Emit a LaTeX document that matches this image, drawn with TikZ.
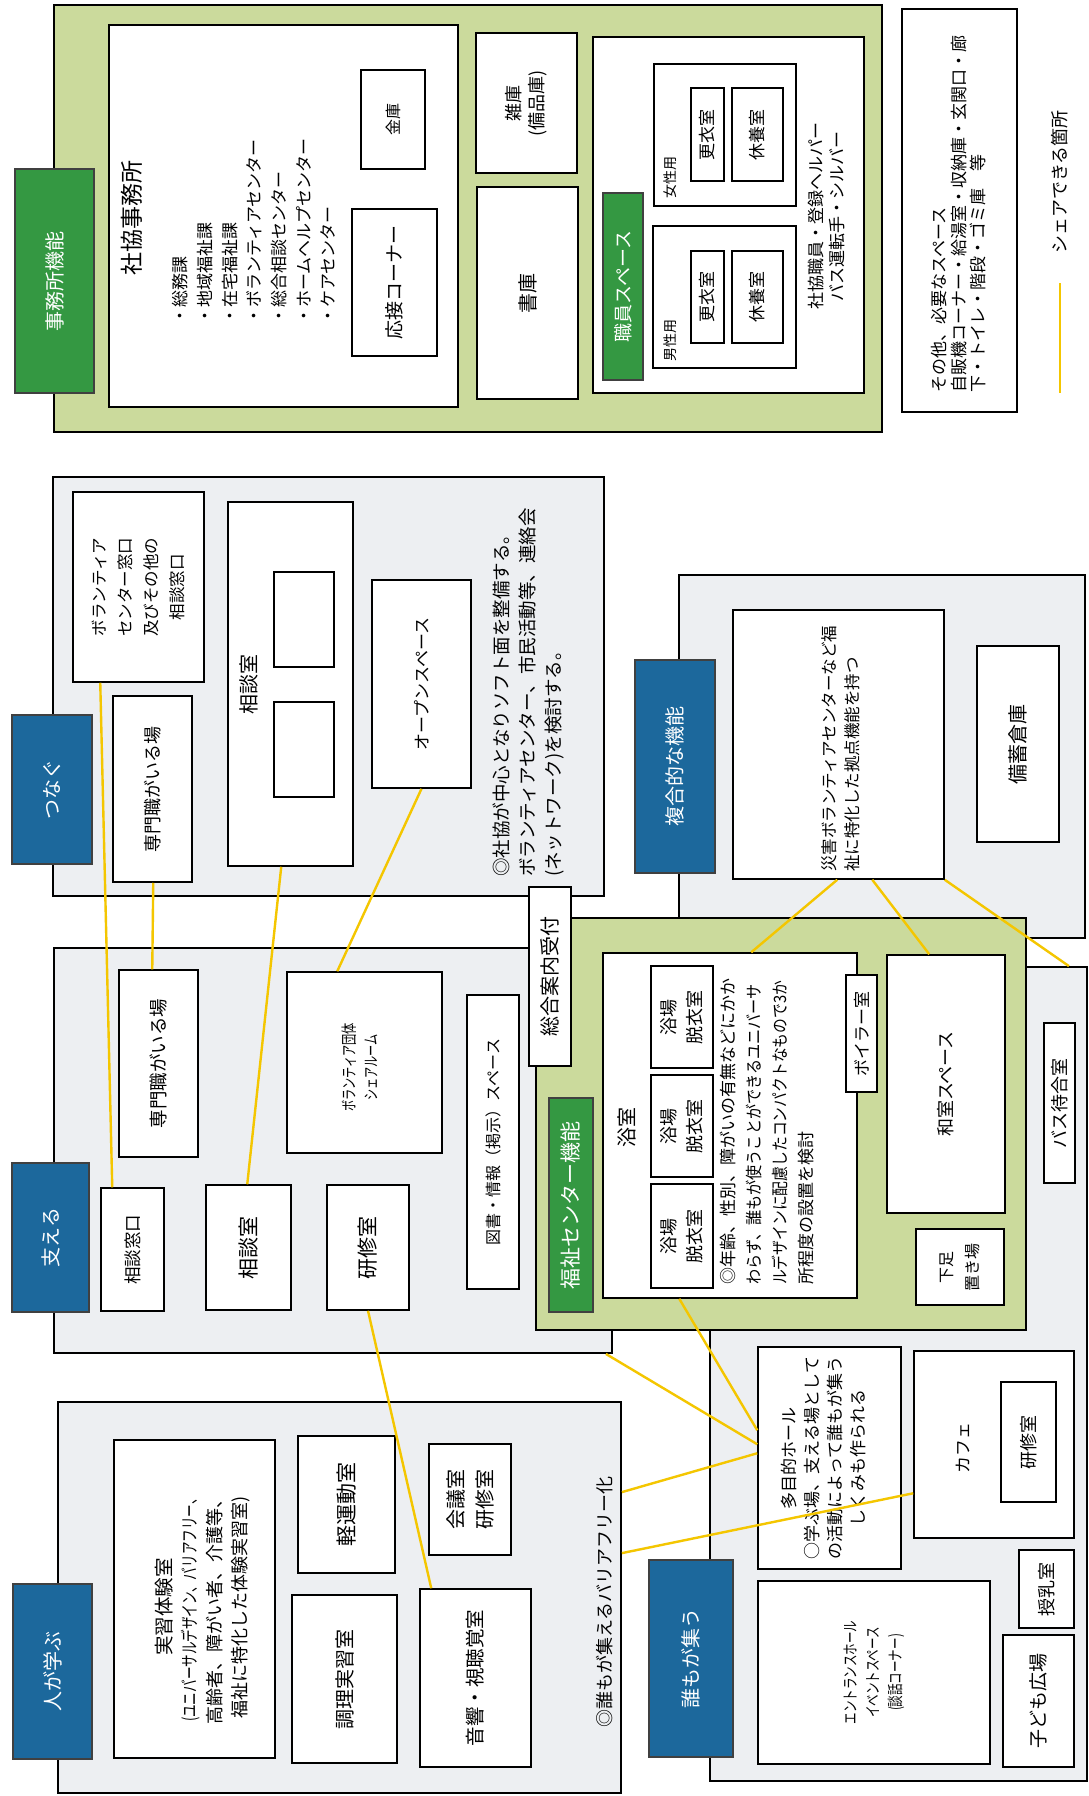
\documentclass[tikz,border=0pt]{standalone}
\usepackage{fontspec}
\setmainfont{Noto Sans CJK JP}
\usepackage{graphicx}
\usetikzlibrary{fit,calc}

\definecolor{zonegray}{RGB}{237,239,242}
\definecolor{olivebg}{RGB}{203,218,156}
\definecolor{catblue}{RGB}{28,104,156}
\definecolor{catgreen}{RGB}{52,152,66}
\definecolor{shareline}{RGB}{244,198,0}

\newcommand{\jfs}[2]{\fontsize{#1}{#2}\selectfont}
\newcommand{\nrw}[2][0.7]{\scalebox{#1}[1]{#2}}

\begin{document}
\begin{tikzpicture}[x=1pt, y=-1pt,
    font=\jfs{18}{25},
    zone/.style={draw, line width=1.8pt, fill=zonegray, inner sep=0pt},
    olive/.style={draw, line width=1.8pt, fill=olivebg, inner sep=0pt},
    room/.style={draw, line width=1.5pt, fill=white, inner sep=0pt},
    tagb/.style={draw=black!75, line width=1.2pt, fill=catblue, inner sep=0pt},
    tagg/.style={draw=black!75, line width=1.2pt, fill=catgreen, inner sep=0pt},
    vt/.style={rotate=90, inner sep=0pt, align=center},
    tagtxt/.style={vt, text=white, font=\jfs{20}{24}},
    share/.style={draw=shareline, line width=2.4pt}]
    \fill[white] (0,0) rectangle (1089,1796);
    \useasboundingbox (0,0) rectangle (1089,1796);

    % Office functions
    \node[olive, fit={(54,5)(882,432)}] (ofOuter) {};
    \node[room, fit={(109,25)(458,407)}] (ofMain) {};
    \node[vt, font=\jfs{23}{28}] (ofTitle) at (132,218) {社協事務所};
    \node[vt, anchor=west, align=left, font=\jfs{17}{24.7}] (ofList) at (254,325)
        {・総務課\\・地域福祉課\\・在宅福祉課\\・ボランティアセンター\\・総合相談センター\\・ホームヘルプセンター\\・ケアセンター};
    \node[room, fit={(361,70)(425,169)}] (ofSafe) {};
    \node[vt, font=\jfs{16}{20}] (ofSafeT) at (ofSafe) {金庫};
    \node[room, fit={(352,209)(437,356)}] (ofRecep) {};
    \node[vt, font=\jfs{19}{24}] (ofRecepT) at (ofRecep) {応接コーナー};
    \node[room, fit={(476,33)(577,173)}] (ofStore) {};
    \node[vt, font=\jfs{18}{23}] (ofStoreT) at (ofStore) {雑庫\\(備品庫)};
    \node[room, fit={(477,187)(578,399)}] (ofBooks) {};
    \node[vt, font=\jfs{20}{24}] (ofBooksT) at (ofBooks) {書庫};
    \node[room, fit={(593,37)(864,393)}] (ofStaff) {};
    \node[tagg, fit={(603,193)(643,380)}] (stLabel) {};
    \node[tagtxt, font=\jfs{19}{24}] (stLabelT) at (stLabel) {職員スペース};
    \node[room, fit={(654,64)(796,206)}] (ofFem) {};
    \node[room, fit={(691,88)(724,181)}] (ofFemCh) {};
    \node[vt, font=\jfs{17}{20}] (ofFemChT) at (ofFemCh) {更衣室};
    \node[room, fit={(732,88)(783,181)}] (ofFemRest) {};
    \node[vt, font=\jfs{17}{20}] (ofFemRestT) at (ofFemRest) {休養室};
    \node[room, fit={(653,226)(796,368)}] (ofMale) {};
    \node[room, fit={(691,251)(724,343)}] (ofMaleCh) {};
    \node[vt, font=\jfs{17}{20}] (ofMaleChT) at (ofMaleCh) {更衣室};
    \node[room, fit={(732,251)(783,343)}] (ofMaleRest) {};
    \node[vt, font=\jfs{17}{20}] (ofMaleRestT) at (ofMaleRest) {休養室};
    \node[vt, font=\jfs{14}{17}] (ofFemTxt) at (670,177) {女性用};
    \node[vt, font=\jfs{14}{17}] (ofMaleTxt) at (670,340) {男性用};
    \node[vt, font=\jfs{17}{21}] (ofStaffTxt) at (827,216)
        {社協職員・登録ヘルパー\\バス運転手・シルバー};
    \node[tagg, fit={(15,169)(94,393)}] (ofLabel) {};
    \node[tagtxt] (ofLabelT) at (ofLabel) {事務所機能};

    % Legend
    \node[room, fit={(902,9)(1017,412)}] (lgBox) {};
    \node[vt, anchor=west, align=left, font=\jfs{17}{19.5}] (lgTxt) at (959,393)
        {その他、必要なスペース\\自販機コーナー・給湯室・収納庫・玄関口・廊\\下・トイレ・階段・ゴミ庫　等};
    \node[vt, font=\jfs{18}{22}] (lgShare) at (1060,182) {シェアできる箇所};
    \coordinate (lgA) at (1060,283);
    \coordinate (lgB) at (1060,393);
    \draw[share] (lgA) -- (lgB);

    % Combined functions
    \node[zone, fit={(679,575)(1085,938)}] (fkBox) {};
    \node[room, fit={(733,610)(944,879)}] (fkDisas) {};
    \node[vt, anchor=west, align=left, font=\jfs{16.5}{23}] (fkTxt) at (841,872)
        {災害ボランティアセンターなど福\\祉に特化した拠点機能を持つ};
    \node[room, fit={(977,646)(1059,842)}] (fkStock) {};
    \node[vt, font=\jfs{20}{24}] (fkStockT) at (fkStock) {備蓄倉庫};
    \node[tagb, fit={(635,660)(715,873)}] (fkLabel) {};
    \node[tagtxt] (fkLabelT) at (fkLabel) {複合的な機能};

    % Connect
    \node[zone, fit={(53,477)(604,896)}] (tnBox) {};
    \node[room, fit={(73,492)(204,682)}] (tnWin) {};
    \node[vt, font=\jfs{16.5}{26}] (tnWinT) at (tnWin)
        {ボランティア\\センター窓口\\及びその他の\\相談窓口};
    \node[room, fit={(113,696)(192,882)}] (tnPro) {};
    \node[vt, font=\jfs{18}{22}] (tnProT) at (tnPro) {専門職がいる場};
    \node[room, fit={(228,502)(353,866)}] (tnRoom) {};
    \node[vt, font=\jfs{20}{24}] (tnRoomT) at (249,684) {相談室};
    \node[room, fit={(274,572)(334,667)}] (tnRoomA) {};
    \node[room, fit={(274,702)(334,797)}] (tnRoomB) {};
    \node[room, fit={(372,580)(471,788)}] (tnOpen) {};
    \node[vt, font=\jfs{17}{21}] (tnOpenT) at (tnOpen) {オープンスペース};
    \node[vt, anchor=west, align=left, font=\jfs{18.5}{26}] (tnNote) at (528,877)
        {◎社協が中心となりソフト面を整備する。\\ボランティアセンター、市民活動等、連絡会\\(ネットワーク)を検討する。};
    \node[tagb, fit={(12,715)(92,864)}] (tnLabel) {};
    \node[tagtxt] (tnLabelT) at (tnLabel) {つなぐ};

    % Support
    \node[zone, fit={(54,948)(612,1353)}] (ssBox) {};
    \node[room, fit={(101,1188)(164,1311)}] (ssWin) {};
    \node[vt, font=\jfs{17.5}{21}] (ssWinT) at (ssWin) {相談窓口};
    \node[room, fit={(119,970)(198,1157)}] (ssPro) {};
    \node[vt, font=\jfs{18.5}{22}] (ssProT) at (ssPro) {専門職がいる場};
    \node[room, fit={(206,1185)(291,1310)}] (ssRoom) {};
    \node[vt, font=\jfs{21}{24}] (ssRoomT) at (ssRoom) {相談室};
    \node[room, fit={(327,1185)(409,1310)}] (ssTrain) {};
    \node[vt, font=\jfs{21}{24}] (ssTrainT) at (ssTrain) {研修室};
    \node[room, fit={(287,972)(442,1153)}] (ssShare) {};
    \node[vt, font=\jfs{16}{22}] (ssShareT) at ($(ssShare)+(-5,5)$)
        {\nrw{ボランティア団体}\\\nrw{シェアルーム}};
    \node[room, fit={(467,995)(519,1289)}] (ssLib) {};
    \node[vt, font=\jfs{16}{20}] (ssLibT) at (ssLib) {図書・情報（掲示）スペース};
    \node[tagb, fit={(12,1163)(89,1312)}] (ssLabel) {};
    \node[tagtxt] (ssLabelT) at (ssLabel) {支える};

    % Everyone gathers
    \node[zone, fit={(710,967)(1087,1781)}] (gaBox) {};
    \node[room, fit={(1044,1023)(1075,1183)}] (gaBus) {};
    \node[vt, font=\jfs{18}{22}] (gaBusT) at (gaBus) {バス待合室};
    \node[room, fit={(758,1347)(901,1569)}] (gaHall) {};
    \node[vt, font=\jfs{17}{23}] (gaHallT) at ($(gaHall)+(-6,0)$)
        {多目的ホール\\○学ぶ場、支える場として\\の活動によって誰もが集う\\しくみも作られる};
    \node[room, fit={(914,1351)(1074,1538)}] (gaCafe) {};
    \node[vt, font=\jfs{17}{20}] (gaCafeT) at (963,1448) {カフェ};
    \node[room, fit={(1001,1382)(1056,1502)}] (gaCafeTr) {};
    \node[vt, font=\jfs{18}{22}] (gaCafeTrT) at (gaCafeTr) {研修室};
    \node[room, fit={(1019,1550)(1074,1628)}] (gaNurse) {};
    \node[vt, font=\jfs{18}{22}] (gaNurseT) at (gaNurse) {授乳室};
    \node[room, fit={(758,1581)(990,1764)}] (gaEnt) {};
    \node[vt, font=\jfs{16}{22.5}] (gaEntT) at (gaEnt)
        {\nrw[0.72]{エントランスホール}\\\nrw[0.72]{イベントスペース}\\\nrw[0.72]{(談話コーナー)}};
    \node[room, fit={(1003,1635)(1074,1767)}] (gaKids) {};
    \node[vt, font=\jfs{19}{23}] (gaKidsT) at (gaKids) {子ども広場};
    \node[tagb, fit={(649,1560)(733,1757)}] (gaLabel) {};
    \node[tagtxt] (gaLabelT) at (gaLabel) {誰もが集う};

    % People learn
    \node[zone, fit={(58,1402)(621,1793)}] (lnBox) {};
    \node[room, fit={(114,1440)(275,1758)}] (lnLab) {};
    \node[vt, font=\jfs{18}{25}] (lnLabT) at ($(lnLab)+(8,8)$)
        {{\jfs{19.5}{25}実習体験室}\\\nrw{(ユニバーサルデザイン、バリアフリー、}\\高齢者、障がい者、介護等、\\福祉に特化した体験実習室)};
    \node[room, fit={(298,1436)(395,1573)}] (lnGym) {};
    \node[vt, font=\jfs{21}{24}] (lnGymT) at (lnGym) {軽運動室};
    \node[room, fit={(292,1595)(397,1763)}] (lnCook) {};
    \node[vt, font=\jfs{20}{24}] (lnCookT) at (lnCook) {調理実習室};
    \node[room, fit={(429,1444)(511,1555)}] (lnMeet) {};
    \node[vt, font=\jfs{20}{29}] (lnMeetT) at (lnMeet) {会議室\\研修室};
    \node[room, fit={(420,1589)(531,1767)}] (lnAV) {};
    \node[vt, font=\jfs{19.5}{24}] (lnAVT) at (lnAV) {音響・視聴覚室};
    \node[vt, anchor=west, font=\jfs{18}{22}] (lnNote) at (605,1728) {◎誰もが集えるバリアフリー化};
    \node[tagb, fit={(13,1584)(92,1759)}] (lnLabel) {};
    \node[tagtxt] (lnLabelT) at (lnLabel) {人が学ぶ};

    % Welfare centre
    \node[olive, fit={(536,918)(1026,1330)}] (wfBox) {};
    \node[room, fit={(603,953)(857,1298)}] (wfBath) {};
    \node[vt, font=\jfs{20}{24}] (wfBathT) at (627,1127) {浴室};
    \node[room, fit={(651,966)(713,1068)}] (wfDr1) {};
    \node[vt, font=\jfs{18}{26}] (wfDr1T) at (wfDr1) {浴場\\脱衣室};
    \node[room, fit={(651,1075)(713,1177)}] (wfDr2) {};
    \node[vt, font=\jfs{18}{26}] (wfDr2T) at (wfDr2) {浴場\\脱衣室};
    \node[room, fit={(651,1184)(713,1288)}] (wfDr3) {};
    \node[vt, font=\jfs{18}{26}] (wfDr3T) at (wfDr3) {浴場\\脱衣室};
    \node[vt, anchor=west, align=left, font=\jfs{17}{26}] (wfNote) at (767,1285)
        {◎年齢、性別、障がいの有無などにかか\\\nrw[0.89]{わらず、誰もが使うことができるユニバーサ}\\\nrw[0.87]{ルデザインに配慮したコンパクトなもので3か}\\所程度の設置を検討};
    \node[room, fit={(846,975)(877,1092)}] (wfBoil) {};
    \node[vt, font=\jfs{17}{20}] (wfBoilT) at (wfBoil) {ボイラー室};
    \node[room, fit={(887,955)(1005,1213)}] (wfJapan) {};
    \node[vt, font=\jfs{18}{22}] (wfJapanT) at (wfJapan) {和室スペース};
    \node[room, fit={(916,1229)(1004,1305)}] (wfShoe) {};
    \node[vt, font=\jfs{16}{26}] (wfShoeT) at (wfShoe) {下足\\置き場};
    \node[tagg, fit={(549,1098)(593,1312)}] (wfLabel) {};
    \node[tagtxt, font=\jfs{21}{24}] (wfLabelT) at (wfLabel) {福祉センター機能};
    \node[room, fit={(529,887)(571,1066)}] (recep) {};
    \node[vt, font=\jfs{20}{24}] (recepT) at (recep) {総合案内受付};

    % Shared places
    \draw[share] ($(tnWin.south west)+(28,0)$) -- ($(ssWin.north west)+(12,0)$);
    \draw[share] ($(tnPro.south west)+(41,0)$) -- ($(ssPro.north west)+(34,0)$);
    \draw[share] ($(tnRoom.south west)+(54,0)$) -- ($(ssRoom.north west)+(42,0)$);
    \draw[share] (tnOpen.south) -- ($(ssShare.north west)+(51,0)$);
    \draw[share] (ssTrain.south) -- ($(lnAV.north west)+(12,0)$);
    \draw[share] ($(ssBox.south east)+(-7,0)$) -- ($(gaHall.north west)+(0,98)$);
    \draw[share] ($(lnBox.north east)+(0,91)$) -- ($(gaHall.north west)+(0,107)$);
    \draw[share] ($(lnBox.north east)+(0,152)$) -- ($(gaCafe.north west)+(0,143)$);
    \draw[share] ($(wfBath.south west)+(77,0)$) -- ($(gaHall.north west)+(0,84)$);
    \draw[share] ($(fkDisas.south west)+(105,0)$) -- ($(wfBath.north west)+(149,0)$);
    \draw[share] ($(fkDisas.south west)+(140,0)$) -- ($(wfJapan.north west)+(43,0)$);
    \draw[share] (fkDisas.south east) -- ($(gaBox.north east)+(-19,0)$);
\end{tikzpicture}
\end{document}
